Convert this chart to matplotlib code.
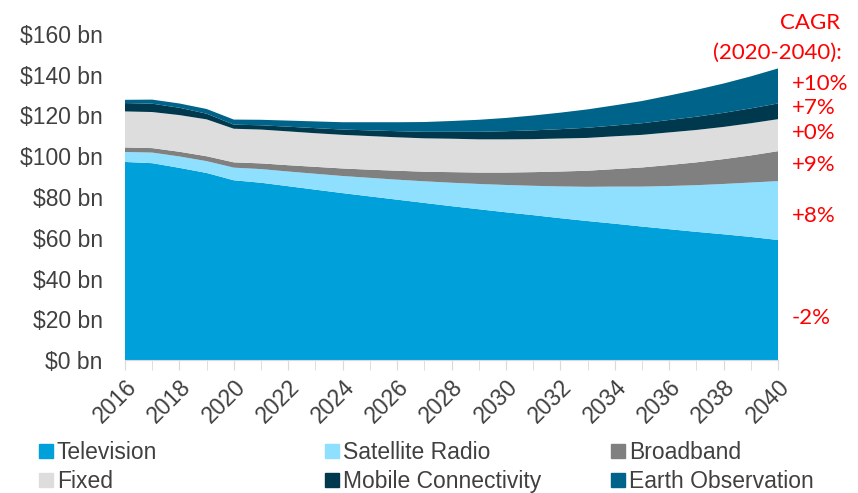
import matplotlib.pyplot as plt
from matplotlib.lines import Line2D

years = list(range(2016, 2041))

television = [97.2, 96.6, 94.3, 91.8, 88.2, 87.0, 85.3, 83.6, 81.9, 80.3, 78.7, 77.1, 75.5,
              74.0, 72.5, 71.1, 69.6, 68.2, 66.9, 65.5, 64.2, 62.9, 61.7, 60.4, 58.9]
satellite_radio = [4.9, 5.2, 5.6, 5.8, 6.2, 6.7, 7.2, 7.8, 8.4, 9.1, 9.8, 10.6, 11.5,
                   12.4, 13.4, 14.4, 15.6, 16.8, 18.2, 19.6, 21.2, 22.9, 24.7, 26.7, 28.9]
broadband = [2.2, 2.2, 2.3, 2.4, 2.6, 2.8, 3.1, 3.4, 3.7, 4.0, 4.4, 4.7, 5.2,
             5.6, 6.1, 6.7, 7.3, 7.9, 8.6, 9.4, 10.3, 11.2, 12.2, 13.3, 14.7]
fixed = [17.7, 17.7, 18.0, 18.1, 16.5, 16.6, 16.6, 16.5, 16.5, 16.5, 16.4, 16.4, 16.4,
         16.3, 16.3, 16.2, 16.2, 16.1, 16.1, 16.0, 16.0, 15.9, 15.8, 15.8, 15.7]
mobile = [4.1, 4.1, 3.6, 2.8, 2.0, 2.1, 2.3, 2.5, 2.6, 2.8, 3.0, 3.2, 3.4,
          3.7, 4.0, 4.3, 4.6, 5.0, 5.3, 5.7, 6.1, 6.5, 6.9, 7.3, 7.7]
earth_obs = [1.6, 2.0, 2.1, 2.3, 2.5, 2.7, 3.0, 3.3, 3.6, 4.0, 4.4, 4.8, 5.3,
             5.9, 6.5, 7.3, 8.1, 9.0, 9.9, 10.9, 12.0, 13.2, 14.4, 15.7, 17.2]

series_names = ["Television", "Satellite Radio", "Broadband",
                "Fixed", "Mobile Connectivity", "Earth Observation"]
colors = ["#00A0DA", "#8FDFFF", "#808080", "#DDDDDD", "#00384D", "#00648A"]

cagr_labels = ["-2%", "+8%", "+9%", "+0%", "+7%", "+10%"]
cagr_y_px = [318, 216, 165, 133, 108, 84]

W, H = 858, 493
text_color = "#404040"
plt.rcParams["font.family"] = ["Liberation Sans", "DejaVu Sans"]

fig = plt.figure(figsize=(W / 100, H / 100), dpi=100)
ax = fig.add_axes([125 / W, 1 - 360 / H, (778 - 125) / W, (360 - 34) / H])

ax.stackplot(years, television, satellite_radio, broadband, fixed, mobile, earth_obs,
             colors=colors, linewidth=0)

ax.set_xlim(2016, 2040)
ax.set_ylim(0, 160)
ax.set_yticks(range(0, 161, 20))
ax.set_yticklabels([f"${v} bn" for v in range(0, 161, 20)])
ax.set_xticks(years, minor=True)
ax.set_xticks(range(2016, 2041, 2))
ax.set_xticklabels([str(y) for y in range(2016, 2041, 2)], rotation=45,
                   ha="right", rotation_mode="anchor")

for side in ["top", "right", "left"]:
    ax.spines[side].set_visible(False)
ax.spines["bottom"].set_color("#D9D9D9")
ax.tick_params(axis="y", length=0, pad=16, labelsize=16.5, labelcolor=text_color)
ax.tick_params(axis="x", which="both", length=7, color="#D9D9D9",
               labelsize=16.5, labelcolor=text_color, pad=4)

# legend: three columns, two rows
handles = [Line2D([], [], marker="s", linestyle="none", markersize=9.5,
                  markerfacecolor=c, markeredgecolor=c) for c in colors]
col_x = [28, 314, 600]
for i, x in enumerate(col_x):
    idx = [i, i + 3]
    fig.legend([handles[j] for j in idx], [series_names[j] for j in idx],
               loc="upper left", bbox_to_anchor=(x / W, 1 - 430 / H),
               frameon=False, fontsize=16.5, handlelength=0.55, handletextpad=0.2,
               labelspacing=0.25, borderpad=0, labelcolor=text_color)

# CAGR annotations
red = "#FF0000"
fig.text(810 / W, 1 - 23 / H, "CAGR", color=red, fontsize=16, family="Lato",
         ha="center", va="center")
fig.text(842 / W, 1 - 53 / H, "(2020-2040):", color=red, fontsize=16, family="Lato",
         ha="right", va="center")
for lab, y in zip(cagr_labels, cagr_y_px):
    fig.text(792 / W, 1 - y / H, lab, color=red, fontsize=16, family="Lato",
             ha="left", va="center")

fig.savefig("out.png", dpi=100)
